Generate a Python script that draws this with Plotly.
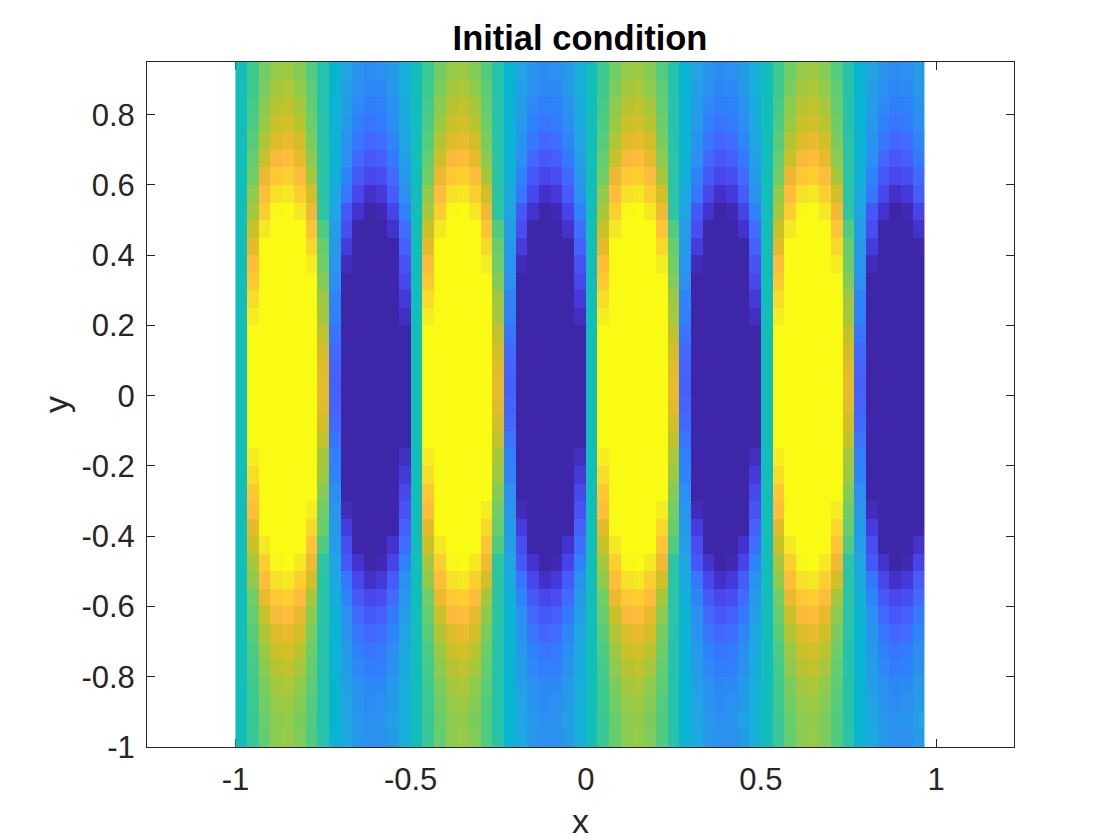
import plotly.graph_objects as go

# One 15-column period of the field for each row, bottom row (y=-1) first.
ROW_M100 = [0, .15, .27, .36, .38, .33, .22, .07, -.12, -.21, -.33, -.37, -.37, -.30, -.16]
ROW_M095 = [0, .15, .28, .36, .37, .32, .22, .06, -.10, -.23, -.32, -.37, -.35, -.28, -.15]
ROW_M090 = [0, .16, .30, .38, .40, .34, .23, .06, -.11, -.25, -.35, -.40, -.38, -.30, -.16]
ROW_M085 = [0, .17, .32, .41, .43, .37, .25, .06, -.11, -.27, -.37, -.43, -.41, -.32, -.17]
ROW_M080 = [0, .19, .36, .45, .48, .42, .27, .06, -.12, -.29, -.42, -.48, -.46, -.36, -.19]
ROW_M075 = [0, .21, .39, .50, .53, .46, .29, .06, -.12, -.32, -.46, -.53, -.50, -.39, -.21]
ROW_M070 = [0, .24, .44, .55, .60, .52, .32, .07, -.12, -.35, -.52, -.60, -.57, -.44, -.24]
ROW_M065 = [0, .27, .50, .65, .68, .59, .36, .08, -.12, -.38, -.59, -.68, -.65, -.50, -.28]
ROW_M060 = [0, .30, .60, .74, .78, .68, .42, .08, -.14, -.44, -.68, -.78, -.74, -.58, -.32]
ROW_M055 = [0, .37, .68, .86, .90, .78, .53, .08, -.20, -.52, -.78, -.92, -.86, -.66, -.36]
ROW_M050 = [0, .42, .78, .98, 1, .90, .62, .10, -.24, -.68, -.90, -1, -.97, -.80, -.45]
ROW_M045 = [0, .50, .90, 1, 1, 1, .72, .22, -.28, -.74, -1, -1, -1, -.90, -.56]
ROW_M040 = [0, .58, 1, 1, 1, 1, .82, .28, -.30, -.84, -1, -1, -1, -1, -.64]
ROW_M035 = [0, .68, 1, 1, 1, 1, .92, .30, -.34, -.95, -1, -1, -1, -1, -.72]
ROW_M030 = [0, .74, 1, 1, 1, 1, 1, .34, -.38, -1, -1, -1, -1, -1, -.78]
ROW_M025 = [0, .84, 1, 1, 1, 1, 1, .40, -.44, -1, -1, -1, -1, -1, -.86]
ROW_M020 = [0, .92, 1, 1, 1, 1, 1, .42, -.47, -1, -1, -1, -1, -1, -.94]
ROW_M015 = [0, 1, 1, 1, 1, 1, 1, .48, -.53, -1, -1, -1, -1, -1, -1]
ROW_M010 = [0, 1, 1, 1, 1, 1, 1, .53, -.59, -1, -1, -1, -1, -1, -1]
ROW_M005 = [0, 1, 1, 1, 1, 1, 1, .57, -.62, -1, -1, -1, -1, -1, -1]
ROW_P000 = [0, 1, 1, 1, 1, 1, 1, .59, -.64, -1, -1, -1, -1, -1, -1]
ROW_P005 = [0, 1, 1, 1, 1, 1, 1, .57, -.62, -1, -1, -1, -1, -1, -1]
ROW_P010 = [0, 1, 1, 1, 1, 1, 1, .53, -.59, -1, -1, -1, -1, -1, -1]
ROW_P015 = [0, 1, 1, 1, 1, 1, 1, .48, -.53, -1, -1, -1, -1, -1, -1]
ROW_P020 = [0, .92, 1, 1, 1, 1, 1, .42, -.47, -1, -1, -1, -1, -1, -.94]
ROW_P025 = [0, .84, 1, 1, 1, 1, 1, .40, -.44, -1, -1, -1, -1, -1, -.86]
ROW_P030 = [0, .74, 1, 1, 1, 1, 1, .34, -.38, -1, -1, -1, -1, -1, -.78]
ROW_P035 = [0, .68, 1, 1, 1, 1, .92, .30, -.34, -.95, -1, -1, -1, -1, -.72]
ROW_P040 = [0, .58, 1, 1, 1, 1, .82, .28, -.30, -.84, -1, -1, -1, -1, -.64]
ROW_P045 = [0, .50, .90, 1, 1, 1, .72, .22, -.28, -.74, -1, -1, -1, -.90, -.56]
ROW_P050 = [0, .42, .78, .98, 1, .90, .62, .10, -.24, -.68, -.90, -1, -.97, -.80, -.45]
ROW_P055 = [0, .37, .68, .86, .90, .78, .53, .08, -.20, -.52, -.78, -.92, -.86, -.66, -.36]
ROW_P060 = [0, .30, .60, .74, .78, .68, .42, .08, -.14, -.44, -.68, -.78, -.74, -.58, -.32]
ROW_P065 = [0, .27, .50, .65, .68, .59, .36, .08, -.12, -.38, -.59, -.68, -.65, -.50, -.28]
ROW_P070 = [0, .24, .44, .55, .60, .52, .32, .07, -.12, -.35, -.52, -.60, -.57, -.44, -.24]
ROW_P075 = [0, .21, .39, .50, .53, .46, .29, .06, -.12, -.32, -.46, -.53, -.50, -.39, -.21]
ROW_P080 = [0, .19, .36, .45, .48, .42, .27, .06, -.12, -.29, -.42, -.48, -.46, -.36, -.19]
ROW_P085 = [0, .17, .32, .41, .43, .37, .25, .06, -.11, -.27, -.37, -.43, -.41, -.32, -.17]
ROW_P090 = [0, .16, .30, .38, .40, .34, .23, .06, -.11, -.25, -.35, -.40, -.38, -.30, -.16]

period_rows = [
    ROW_M100, ROW_M095, ROW_M090, ROW_M085, ROW_M080, ROW_M075, ROW_M070, ROW_M065,
    ROW_M060, ROW_M055, ROW_M050, ROW_M045, ROW_M040, ROW_M035, ROW_M030, ROW_M025,
    ROW_M020, ROW_M015, ROW_M010, ROW_M005, ROW_P000, ROW_P005, ROW_P010, ROW_P015,
    ROW_P020, ROW_P025, ROW_P030, ROW_P035, ROW_P040, ROW_P045, ROW_P050, ROW_P055,
    ROW_P060, ROW_P065, ROW_P070, ROW_P075, ROW_P080, ROW_P085, ROW_P090,
]

# The picture repeats every 15 columns; 59 columns are shown.
N_COLS = 59
z_values = [(row * 4)[:N_COLS] for row in period_rows]
x_edges = [-1 + k / 30 for k in range(N_COLS + 1)]
y_edges = [-1 + k / 20 for k in range(len(period_rows) + 1)]

x_ticks = [-1, -0.5, 0, 0.5, 1]
x_labels = ["-1", "-0.5", "0", "0.5", "1"]
y_ticks = [-1, -0.8, -0.6, -0.4, -0.2, 0, 0.2, 0.4, 0.6, 0.8]
y_labels = ["-1", "-0.8", "-0.6", "-0.4", "-0.2", "0", "0.2", "0.4", "0.6", "0.8"]

PARULA = [
    (.2422, .1504, .6603), (.2504, .1650, .7076), (.2578, .1818, .7511), (.2647, .1978, .7952),
    (.2706, .2147, .8364), (.2751, .2342, .8710), (.2783, .2559, .8991), (.2803, .2782, .9221),
    (.2813, .3006, .9414), (.2810, .3228, .9579), (.2795, .3447, .9717), (.2760, .3667, .9829),
    (.2699, .3892, .9906), (.2602, .4123, .9952), (.2440, .4358, .9988), (.2206, .4603, .9973),
    (.1963, .4847, .9892), (.1834, .5074, .9798), (.1786, .5289, .9682), (.1764, .5499, .9520),
    (.1687, .5703, .9359), (.1540, .5902, .9218), (.1460, .6091, .9079), (.1380, .6276, .8973),
    (.1248, .6459, .8883), (.1113, .6635, .8763), (.0952, .6798, .8598), (.0689, .6948, .8394),
    (.0297, .7082, .8163), (.0036, .7203, .7917), (.0067, .7312, .7660), (.0433, .7411, .7394),
    (.0964, .7500, .7120), (.1408, .7584, .6842), (.1717, .7670, .6554), (.1938, .7758, .6251),
    (.2161, .7843, .5923), (.2470, .7918, .5567), (.2906, .7973, .5188), (.3406, .8008, .4789),
    (.3909, .8029, .4354), (.4456, .8024, .3909), (.5044, .7993, .3480), (.5616, .7942, .3045),
    (.6174, .7876, .2612), (.6720, .7793, .2227), (.7242, .7698, .1910), (.7738, .7598, .1646),
    (.8203, .7498, .1535), (.8634, .7406, .1596), (.9035, .7330, .1774), (.9393, .7288, .2100),
    (.9728, .7298, .2394), (.9956, .7434, .2371), (.9970, .7659, .2199), (.9952, .7861, .1999),
    (.9892, .8137, .1885), (.9786, .8386, .1766), (.9676, .8636, .1639), (.9610, .8890, .1537),
    (.9597, .9135, .1423), (.9628, .9373, .1265), (.9691, .9606, .1064), (.9769, .9839, .0805),
]
colorscale = [
    [i / (len(PARULA) - 1), "rgb(%d,%d,%d)" % tuple(round(c * 255) for c in rgb)]
    for i, rgb in enumerate(PARULA)
]

INK = "#262626"
FONT = "Liberation Sans"

fig = go.Figure(
    go.Heatmap(
        z=z_values, x=x_edges, y=y_edges,
        zmin=-1, zmax=1, colorscale=colorscale, showscale=False,
        xgap=0, ygap=0, zsmooth=False,
    )
)

axis_common = dict(
    showgrid=False, zeroline=False, showline=True, mirror="ticks",
    linecolor=INK, linewidth=1, ticks="inside", ticklen=8, tickwidth=1,
    tickcolor=INK, tickfont=dict(family=FONT, size=31, color=INK),
    tickmode="array", layer="below traces",
)

# The page puts the figure 8px in from the window's top left corner.
fig.update_layout(
    width=1112, height=832,
    autosize=False,
    margin=dict(l=138.5, r=105.5, t=54, b=93, pad=0),
    paper_bgcolor="white", plot_bgcolor="white",
    title=dict(
        text="<b>Initial condition</b>",
        font=dict(family=FONT, size=34.5, color="black"),
        x=572 / 1112, xanchor="center", xref="container",
        y=1 - 30 / 832, yanchor="middle", yref="container",
    ),
    xaxis=dict(
        axis_common, range=[-1.2525, 1.2225], tickvals=x_ticks, ticktext=x_labels,
        ticklabelstandoff=5,
        title=dict(text="x", font=dict(family=FONT, size=34, color=INK), standoff=12),
        automargin=False,
    ),
    yaxis=dict(
        axis_common, range=[-1, 0.95], tickvals=y_ticks, ticktext=y_labels,
        ticklabelstandoff=5,
        title=dict(text="y", font=dict(family=FONT, size=34, color=INK), standoff=2),
        automargin=False,
    ),
)

fig.write_html("out.html")
